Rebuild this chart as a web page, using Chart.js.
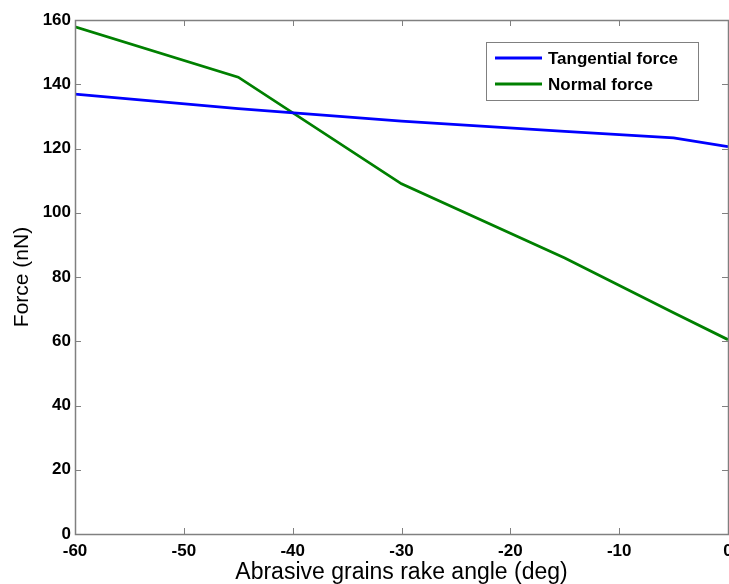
<!DOCTYPE html>
<html>
<head>
<meta charset="utf-8">
<script src="https://cdn.jsdelivr.net/npm/chart.js@4.4.1/dist/chart.umd.min.js"></script>
<style>
  html, body { margin: 0; padding: 0; background: #ffffff; }
  #wrap { width: 729px; height: 584px; position: relative; }
</style>
</head>
<body>
<div id="wrap"><canvas id="chart" width="729" height="584"></canvas></div>
<script>
// Rake angle of the abrasive grain (deg)
const rakeAngles = [-60, -45, -30, -15, -5, 0];
// Cutting forces (nN)
const tangentialForce = [136.9, 132.4, 128.5, 125.3, 123.3, 120.6];
const normalForce = [157.9, 142.2, 109.0, 85.9, 68.9, 60.5];

const seriesNames = ['Tangential force', 'Normal force'];
const xTicks = [-60, -50, -40, -30, -20, -10, 0];
const yTicks = [0, 20, 40, 60, 80, 100, 120, 140, 160];

const FONT = '"Liberation Sans", Arial, Helvetica, sans-serif';
const AXIS_GRAY = '#808080';

function toPoints(xs, ys) {
  return xs.map((x, i) => ({ x: x, y: ys[i] }));
}

// Box around the plot area with inward tick marks on all four sides
const boxTicks = {
  id: 'boxTicks',
  afterDatasetsDraw(chart) {
    const { ctx, chartArea: a, scales: { x, y } } = chart;
    const len = 6;
    ctx.save();
    ctx.strokeStyle = AXIS_GRAY;
    ctx.lineWidth = 1;
    ctx.beginPath();
    xTicks.forEach(v => {
      const px = Math.round(x.getPixelForValue(v)) + 0.5;
      ctx.moveTo(px, a.bottom); ctx.lineTo(px, a.bottom - len);
      ctx.moveTo(px, a.top); ctx.lineTo(px, a.top + len);
    });
    yTicks.forEach(v => {
      const py = Math.round(y.getPixelForValue(v)) + 0.5;
      ctx.moveTo(a.left, py); ctx.lineTo(a.left + len, py);
      ctx.moveTo(a.right, py); ctx.lineTo(a.right - len, py);
    });
    ctx.stroke();
    ctx.lineWidth = 1.5;
    ctx.strokeRect(Math.round(a.left) + 0.5, Math.round(a.top) + 0.5,
      Math.round(a.right - a.left), Math.round(a.bottom - a.top));
    ctx.restore();
  }
};

// Legend box in the upper right of the plot
const boxLegend = {
  id: 'boxLegend',
  afterDraw(chart) {
    const { ctx } = chart;
    const bx = 486, by = 42, bw = 212, bh = 58;
    ctx.save();
    ctx.fillStyle = '#ffffff';
    ctx.fillRect(bx, by, bw, bh);
    ctx.strokeStyle = AXIS_GRAY;
    ctx.lineWidth = 1;
    ctx.strokeRect(bx + 0.5, by + 0.5, bw, bh);
    ctx.font = 'bold 17px ' + FONT;
    ctx.textBaseline = 'middle';
    ctx.textAlign = 'left';
    chart.data.datasets.forEach((ds, i) => {
      const ly = 58 + i * 26;
      ctx.strokeStyle = ds.borderColor;
      ctx.lineWidth = 2.8;
      ctx.beginPath();
      ctx.moveTo(495, ly);
      ctx.lineTo(542, ly);
      ctx.stroke();
      ctx.fillStyle = '#000000';
      ctx.fillText(ds.label, 548, ly + 1);
    });
    ctx.restore();
  }
};

new Chart(document.getElementById('chart'), {
  type: 'line',
  data: {
    datasets: [
      {
        label: seriesNames[0],
        data: toPoints(rakeAngles, tangentialForce),
        borderColor: '#0000ff',
        borderWidth: 2.8,
        pointRadius: 0,
        tension: 0,
        fill: false
      },
      {
        label: seriesNames[1],
        data: toPoints(rakeAngles, normalForce),
        borderColor: '#008000',
        borderWidth: 2.8,
        pointRadius: 0,
        tension: 0,
        fill: false
      }
    ]
  },
  options: {
    responsive: false,
    animation: false,
    events: [],
    layout: { padding: { top: 20, right: 1, bottom: 0, left: 0 } },
    plugins: {
      legend: { display: false },
      tooltip: { enabled: false }
    },
    scales: {
      x: {
        type: 'linear',
        min: -60,
        max: 0,
        afterBuildTicks(scale) { scale.ticks = xTicks.map(v => ({ value: v })); },
        afterFit(scale) {
          scale.height = 50;
          scale.paddingLeft = 0;
          scale.paddingRight = 0;
        },
        grid: { display: false, drawTicks: false },
        border: { display: false },
        ticks: {
          color: '#000000',
          padding: 7,
          maxRotation: 0,
          autoSkip: false,
          font: { family: FONT, size: 17, weight: 'bold' }
        },
        title: {
          display: true,
          text: 'Abrasive grains rake angle (deg)',
          color: '#000000',
          padding: { top: 0, bottom: 0 },
          font: { family: FONT, size: 23, weight: 'normal', lineHeight: 1.0 }
        }
      },
      y: {
        min: 0,
        max: 160,
        afterBuildTicks(scale) { scale.ticks = yTicks.map(v => ({ value: v })); },
        afterFit(scale) {
          scale.width = 75;
          scale.paddingTop = 0;
          scale.paddingBottom = 0;
        },
        grid: { display: false, drawTicks: false },
        border: { display: false },
        ticks: {
          color: '#000000',
          padding: 4,
          autoSkip: false,
          font: { family: FONT, size: 17, weight: 'bold' }
        },
        title: {
          display: true,
          text: 'Force (nN)',
          color: '#000000',
          padding: { top: 10, bottom: 0 },
          font: { family: FONT, size: 21, weight: 'normal', lineHeight: 1.2 }
        }
      }
    }
  },
  plugins: [boxTicks, boxLegend]
});
</script>
</body>
</html>
